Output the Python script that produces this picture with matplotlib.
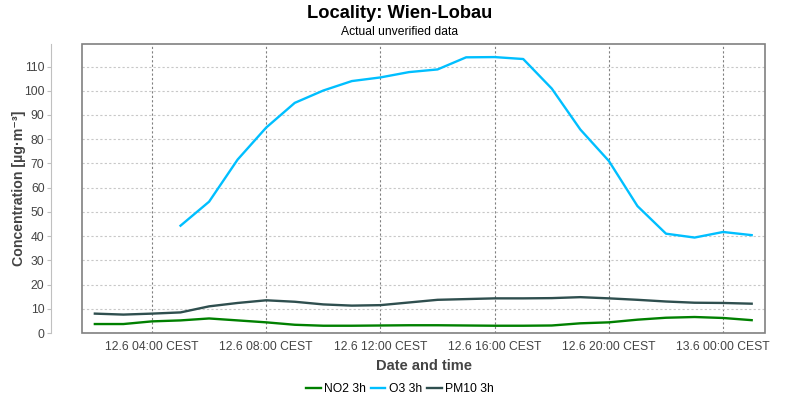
import matplotlib
matplotlib.use("Agg")
import matplotlib.pyplot as plt
import matplotlib.dates as mdates
from matplotlib.patches import Rectangle
import numpy as np
import pandas as pd

plt.rcParams["font.family"] = ["Liberation Sans", "DejaVu Sans"]

# hourly values, 12.6 02:00 .. 13.6 01:00
times = pd.date_range("2023-06-12 02:00", periods=24, freq="h")
no2 = [3.7, 3.7, 4.8, 5.2, 6.0, 5.2, 4.4, 3.4, 3.0, 3.0, 3.1, 3.2,
       3.2, 3.1, 3.0, 3.0, 3.1, 4.0, 4.4, 5.5, 6.3, 6.6, 6.2, 5.3]
o3 = [np.nan, np.nan, np.nan, 44.3, 54.2, 71.6, 84.8, 95.0, 100.1, 104.0, 105.5, 107.7,
      108.8, 113.8, 113.9, 113.1, 100.9, 84.0, 71.0, 52.4, 41.0, 39.4, 41.7, 40.4]
pm10 = [8.0, 7.6, 8.0, 8.5, 11.0, 12.4, 13.5, 12.9, 11.8, 11.3, 11.5, 12.6,
        13.7, 14.0, 14.3, 14.3, 14.4, 14.8, 14.3, 13.7, 13.0, 12.5, 12.4, 12.1]
series = [("NO2 3h", no2, "#008000"), ("O3 3h", o3, "#00BFFF"), ("PM10 3h", pm10, "#2F4F4F")]

fig = plt.figure(figsize=(8, 4), dpi=100)
ax = fig.add_axes([82 / 800, 67 / 400, 683 / 800, 289 / 400])

for name, vals, color in series:
    ax.plot(times, vals, color=color, lw=1.7, label=name)

ax.set_xlim(pd.Timestamp("2023-06-12 01:33"), pd.Timestamp("2023-06-13 01:28"))
ax.set_ylim(0, 119.3)
ax.set_yticks(np.arange(0, 111, 10))
ax.xaxis.set_major_locator(mdates.HourLocator(byhour=[0, 4, 8, 12, 16, 20]))
ax.xaxis.set_major_formatter(mdates.DateFormatter("%-d.%-m %H:%M CEST"))

ax.grid(axis="y", color="#c8c8c8", linestyle=(0, (2, 2)), lw=0.8)
ax.grid(axis="x", color="#808080", linestyle=(0, (2, 2)), lw=0.8)

for s in ["top", "right", "bottom"]:
    ax.spines[s].set_visible(False)
ax.spines["left"].set_position(("outward", 22))
ax.spines["left"].set_color("#c0c0c0")
ax.add_patch(Rectangle((0, 0), 1, 1, transform=ax.transAxes, fill=False,
                       edgecolor="#808080", lw=1.2, clip_on=False, zorder=5))

ax.tick_params(axis="y", length=3, color="#c0c0c0", labelsize=8.7, labelcolor="#444444", pad=2)
ax.tick_params(axis="x", length=0, labelsize=8.7, labelcolor="#444444", pad=6)

ax.set_xlabel("Date and time", fontsize=10.5, fontweight="bold", color="#444444", labelpad=4)
ax.set_ylabel("Concentration [µg·m⁻³]", fontsize=10.2, fontweight="bold", color="#444444")
ax.yaxis.set_label_coords(-0.082, 0.5)

fig.text(0.5, 0.967, "Locality: Wien-Lobau", ha="center", va="center", fontsize=13.2, fontweight="bold")
fig.text(0.5, 0.921, "Actual unverified data", ha="center", va="center", fontsize=8.7)

fig.legend(loc="center", bbox_to_anchor=(0.5, 0.028), ncol=3, frameon=False, fontsize=8.7,
           handlelength=1.2, handletextpad=0.3, columnspacing=0.4)

fig.savefig("out.png", dpi=100)
